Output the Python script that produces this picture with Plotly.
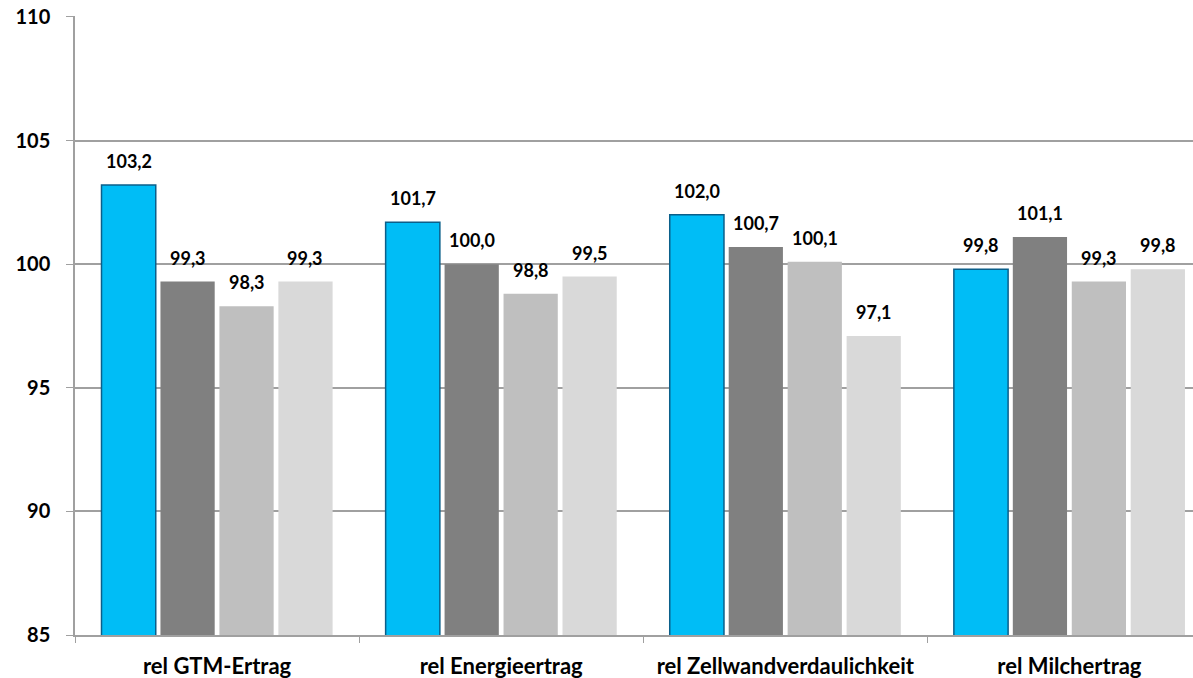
import plotly.graph_objects as go

categories = ["rel GTM-Ertrag", "rel Energieertrag", "rel Zellwandverdaulichkeit", "rel Milchertrag"]
series_names = ["Sorte A", "Sorte B", "Sorte C", "Sorte D"]
series_values = [
    [103.2, 101.7, 102.0, 99.8],
    [99.3, 100.0, 100.7, 101.1],
    [98.3, 98.8, 100.1, 99.3],
    [99.3, 99.5, 97.1, 99.8],
]
colors = ["#00BDF6", "#808080", "#BFBFBF", "#D9D9D9"]
line_colors = ["#0B5F8A", "#808080", "#BFBFBF", "#D9D9D9"]
y_ticks = [85, 90, 95, 100, 105, 110]

FONT = "Lato"
bargap = 0.17
bargroupgap = 0.08

fig = go.Figure()
for name, vals, c, lc in zip(series_names, series_values, colors, line_colors):
    fig.add_trace(go.Bar(
        x=categories, y=vals, name=name,
        marker=dict(color=c, line=dict(color=lc, width=1.5 if lc != c else 0)),
        hoverinfo="x+y",
    ))

n = len(series_values)
group_w = 1 - bargap
slot = group_w / n
for j, vals in enumerate(series_values):
    for i, v in enumerate(vals):
        xpos = i - group_w / 2 + slot * (j + 0.5)
        fig.add_annotation(
            x=xpos, y=v, xref="x", yref="y",
            text=f"{v:.1f}".replace(".", ","),
            showarrow=False, yanchor="bottom", yshift=11,
            font=dict(family=FONT, size=18, color="black", weight="bold"),
        )

fig.update_layout(
    width=1193, height=678,
    margin=dict(l=75, r=0, t=16, b=43),
    plot_bgcolor="white", paper_bgcolor="white",
    barmode="group", bargap=bargap, bargroupgap=bargroupgap,
    showlegend=False,
    font=dict(family=FONT, color="black"),
)
fig.update_xaxes(
    type="category", range=[-0.5, 3.435], automargin=False,
    tickson="boundaries", ticks="outside", ticklen=6, tickcolor="#A0A0A0",
    showline=True, linecolor="#A0A0A0", linewidth=1.5,
    showgrid=False, ticklabelstandoff=11,
    tickfont=dict(family=FONT, size=22, color="black", weight="bold"),
)
fig.update_yaxes(
    range=[85, 110.04], tickvals=y_ticks, ticktext=[str(t) for t in y_ticks],
    automargin=False, ticklabelstandoff=12, ticklabeloverflow="allow",
    ticks="outside", ticklen=7, tickcolor="#A0A0A0",
    showline=True, linecolor="#A0A0A0", linewidth=1.5,
    showgrid=True, gridcolor="#A0A0A0", gridwidth=1.5,
    zeroline=False,
    tickfont=dict(family=FONT, size=20, color="black", weight="bold"),
)

fig.write_html("out.html", config={"displayModeBar": False},
               post_script="document.body.style.margin='0';")
